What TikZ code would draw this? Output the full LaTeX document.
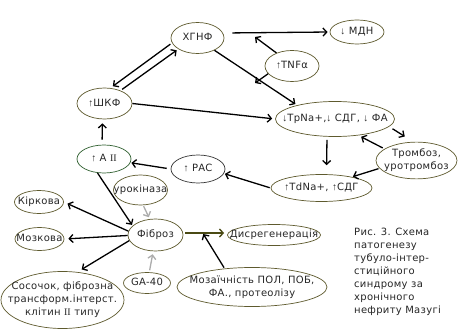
\documentclass[tikz,border=0pt]{standalone}
\usepackage{fontspec}
\setmainfont{DejaVu Sans}[LetterSpace=3]
\newfontfamily\romfont{Liberation Serif}
\newfontfamily\arrfont{Liberation Sans}
\usetikzlibrary{shapes.geometric,arrows.meta}
\definecolor{olivebd}{HTML}{5E5A2E}
\definecolor{greenbd}{HTML}{2F5F2F}
\definecolor{oliveln}{HTML}{4A4A14}
\newcommand\etext[1]{\makebox[0pt]{\begin{tabular}{@{}c@{}}#1\end{tabular}}}
\newcommand\RII{{\romfont II}}
\newcommand\UA{{\arrfont ↑}}
\newcommand\DA{{\arrfont ↓}}
\begin{document}
\begin{tikzpicture}[x=1pt,y=-1pt,
  font=\fontsize{10}{13}\selectfont,
  el/.style={ellipse, draw=olivebd, line width=0.7pt, inner sep=0pt, text=black!85},
  arr/.style={line width=1.3pt, -{Straight Barb[length=3.8pt,width=8pt]}},
  garr/.style={arr, draw=gray!65},
]
\useasboundingbox (0,0) rectangle (459,329);
\fill[white] (0,0) rectangle (459,329);

\node[el, minimum width=53pt, minimum height=31pt] (xgnf) at (197.5,38) {\etext{ХГНФ}};
\node[el, minimum width=54pt, minimum height=24pt] (mdn) at (357,32) {\etext{\DA{} МДН}};
\node[el, minimum width=54pt, minimum height=31pt] (tnf) at (292,66) {\etext{\UA TNFα}};
\node[el, minimum width=55pt, minimum height=31pt] (shkf) at (104.5,103.5) {\etext{\UA ШКФ}};
\node[el, minimum width=119pt, minimum height=35pt] (tpna) at (335,119) {\etext{\DA TpNa+,\DA{} СДГ, \DA{} ФА}};
\node[el, minimum width=81pt, minimum height=35pt] (trom) at (416.5,160.5) {\etext{Тромбоз,\\уротромбоз}};
\node[el, minimum width=101pt, minimum height=27pt] (tdna) at (321.5,188) {\etext{\UA TdNa+, \UA СДГ}};
\node[el, draw=black!80, minimum width=54pt, minimum height=28pt] (ras) at (198,169) {\etext{\UA{} РАС}};
\node[el, draw=greenbd, minimum width=54pt, minimum height=28pt] (a2) at (104,159) {\etext{\UA{} A \RII}};
\node[el, minimum width=49pt, minimum height=23pt] (kirk) at (39,202) {\etext{Кіркова}};
\node[el, minimum width=49pt, minimum height=23pt] (mozk) at (39.5,239) {\etext{Мозкова}};
\node[el, minimum width=54pt, minimum height=30pt] (urok) at (140.5,190) {\etext{урокіназа}};
\node[el, minimum width=55pt, minimum height=32pt] (fib) at (155.5,235) {\etext{Фіброз}};
\node[el, minimum width=47pt, minimum height=21pt] (ga) at (147,283) {\etext{GA-40}};
\node[el, minimum width=123pt, minimum height=57pt] (sos) at (62.5,300) {\etext{Сосочок, фіброзна\\трансформ.інтерст.\\клітин \RII{} типу}};
\node[el, minimum width=150pt, minimum height=39pt] (moz) at (252,287) {\etext{Мозаїчність ПОЛ, ПОБ,\\ФА., протеолізу}};
\node[el, minimum width=93pt, minimum height=21pt] (dis) at (274,235) {\etext{Дисрегенерація}};

\node[anchor=north west, align=left, inner sep=0pt, text=black!85] (cap) at (354,228)
  {Рис. 3. Схема\\патогенезу\\тубуло-інтер-\\стиційного\\синдрому за\\хронічного\\нефриту Мазугі};

\coordinate (t1) at (255,37);
\coordinate (t2) at (255,83);
\coordinate (j) at (203.3,234);

% connectors
\draw[arr, shorten <=2pt, shorten >=3pt] (xgnf.191) -- (shkf.69);
\draw[arr, shorten <=2pt, shorten >=2pt] (shkf.39) -- (xgnf.210);
\draw[arr, shorten <=8pt, shorten >=2pt] ([yshift=5pt]xgnf.east) -- (mdn.west);
\draw[arr] (tnf.140) -- (t1);
\draw[arr] (tnf.198) -- (t2);
\draw[arr, shorten >=2pt] (xgnf.-36) -- (tpna.160);
\draw[arr, shorten >=3pt] (shkf.east) -- (tpna.west);
\draw[arr, shorten <=4pt, shorten >=10pt] (tpna.-8) -- (trom.100);
\draw[arr, shorten <=2pt, shorten >=3pt] (trom.160) -- (tpna.-35);
\draw[arr, shorten <=1pt, shorten >=1pt] (trom.192) -- (tdna.20);
\draw[arr, shorten <=3pt, shorten >=9pt] ([xshift=-8pt]tpna.south) -- ([xshift=5pt]tdna.north);
\draw[arr, shorten <=1pt, shorten >=1pt] (tdna.west) -- (ras.-10);
\draw[arr, shorten <=4pt, shorten >=1pt] (ras.west) -- (a2.-8);
\draw[arr, shorten <=5pt, shorten >=4pt] ([xshift=-2pt]a2.north) -- ([xshift=-2pt]shkf.south);
\draw[arr, shorten >=1pt] (a2.-115) -- (fib.158);
\draw[arr, shorten >=4pt] (fib.172) -- (kirk.east);
\draw[arr, shorten >=4pt] (fib.181) -- (mozk.east);
\draw[arr, shorten >=5pt] (fib.192) -- (sos.62);
\draw[garr, shorten <=1pt, shorten >=2pt] (urok.-80) -- (fib.110);
\draw[garr, shorten <=2pt, shorten >=3pt] (ga.78) -- (fib.-98);
\draw[arr, draw=oliveln, shorten <=2pt, shorten >=3pt] ([yshift=2pt]fib.east) -- ([yshift=2pt]dis.west);
\draw[arr, shorten <=1pt] (moz.146) -- (j);
\end{tikzpicture}
\end{document}
